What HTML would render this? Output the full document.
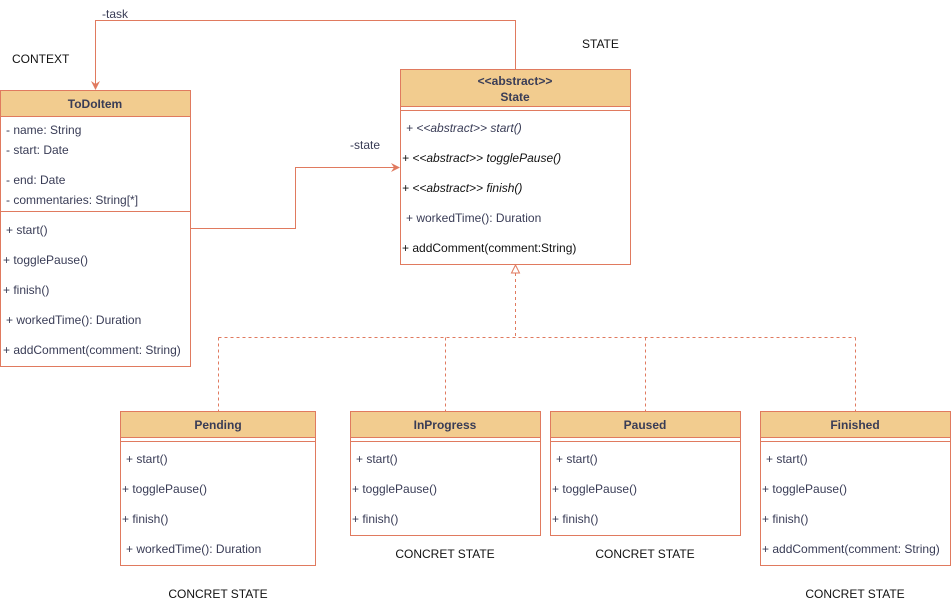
<!DOCTYPE html>
<html><head><meta charset="utf-8"><style>
html,body{margin:0;padding:0;background:#fff;width:951px;height:612px;overflow:hidden}
svg{display:block}
text{font-family:"Liberation Sans",sans-serif;font-size:12px;fill:#393C56}
.b{font-weight:bold;text-anchor:middle}
.k{fill:#111}
.i{font-style:italic}
</style></head><body>
<svg width="951" height="612" viewBox="0 0 951 612" xmlns="http://www.w3.org/2000/svg">
<g fill="none" stroke="#E07A5F" stroke-width="1">
<!-- task connector -->
<polyline points="515.5,69 515.5,20.5 95.5,20.5 95.5,84"/>
<!-- state connector -->
<polyline points="190,228.5 295.5,228.5 295.5,167.5 394,167.5"/>
<!-- generalization -->
<g stroke-dasharray="3,3">
<line x1="515.5" y1="273" x2="515.5" y2="337.5"/>
<line x1="218.5" y1="337.5" x2="855.5" y2="337.5"/>
<line x1="218.5" y1="337.5" x2="218.5" y2="411"/>
<line x1="445.5" y1="337.5" x2="445.5" y2="411"/>
<line x1="645.5" y1="337.5" x2="645.5" y2="411"/>
<line x1="855.5" y1="337.5" x2="855.5" y2="411"/>
</g>
<polygon points="515.5,265 511.5,273 519.5,273" fill="#fff"/>
</g>
<polygon points="95.5,90 91,81 95.5,84 100,81" fill="#E07A5F"/>
<polygon points="400,167.5 391,163 394,167.5 391,172" fill="#E07A5F"/>

<!-- ToDoItem -->
<g stroke="#E07A5F" fill="none">
<rect x="0.5" y="90.5" width="190" height="26" fill="#F2CC8F"/>
<rect x="0.5" y="116.5" width="190" height="250" fill="#fff"/>
<line x1="0" y1="211.5" x2="190" y2="211.5"/>
</g>
<text class="b" x="95" y="108">ToDoItem</text>
<text x="6" y="134">- name: String</text>
<text x="6" y="154">- start: Date</text>
<text x="6" y="184">- end: Date</text>
<text x="6" y="204">- commentaries: String[*]</text>
<text x="6" y="234">+ start()</text>
<text x="3" y="264">+ togglePause()</text>
<text x="3" y="294">+ finish()</text>
<text x="6" y="324">+ workedTime(): Duration</text>
<text x="3" y="354">+ addComment(comment: String)</text>

<!-- State -->
<g stroke="#E07A5F" fill="none">
<rect x="400.5" y="69.5" width="230" height="37" fill="#F2CC8F"/>
<rect x="400.5" y="106.5" width="230" height="158" fill="#fff"/>
<line x1="400" y1="110.5" x2="630" y2="110.5"/>
</g>
<text class="b" x="515" y="85">&lt;&lt;abstract&gt;&gt;</text>
<text class="b" x="515" y="101">State</text>
<text x="406" y="132" class="i">+ &lt;&lt;abstract&gt;&gt; start()</text>
<text x="402" y="162" class="i k">+ &lt;&lt;abstract&gt;&gt; togglePause()</text>
<text x="402" y="192" class="i k">+ &lt;&lt;abstract&gt;&gt; finish()</text>
<text x="406" y="222">+ workedTime(): Duration</text>
<text x="402" y="252" class="k">+ addComment(comment:String)</text>

<!-- Pending -->
<g stroke="#E07A5F" fill="none">
<rect x="120.5" y="411.5" width="195" height="26" fill="#F2CC8F"/>
<rect x="120.5" y="437.5" width="195" height="128" fill="#fff"/>
<line x1="120" y1="441.5" x2="315" y2="441.5"/>
<rect x="350.5" y="411.5" width="190" height="26" fill="#F2CC8F"/>
<rect x="350.5" y="437.5" width="190" height="98" fill="#fff"/>
<line x1="350" y1="441.5" x2="540" y2="441.5"/>
<rect x="550.5" y="411.5" width="190" height="26" fill="#F2CC8F"/>
<rect x="550.5" y="437.5" width="190" height="98" fill="#fff"/>
<line x1="550" y1="441.5" x2="740" y2="441.5"/>
<rect x="760.5" y="411.5" width="190" height="26" fill="#F2CC8F"/>
<rect x="760.5" y="437.5" width="190" height="128" fill="#fff"/>
<line x1="760" y1="441.5" x2="950" y2="441.5"/>
</g>
<text class="b" x="218" y="429">Pending</text>
<text x="126" y="463">+ start()</text>
<text x="122" y="493">+ togglePause()</text>
<text x="122" y="523">+ finish()</text>
<text x="126" y="553">+ workedTime(): Duration</text>

<text class="b" x="445" y="429">InProgress</text>
<text x="356" y="463">+ start()</text>
<text x="352" y="493">+ togglePause()</text>
<text x="352" y="523">+ finish()</text>

<text class="b" x="645" y="429">Paused</text>
<text x="556" y="463">+ start()</text>
<text x="552" y="493">+ togglePause()</text>
<text x="552" y="523">+ finish()</text>

<text class="b" x="855" y="429">Finished</text>
<text x="766" y="463">+ start()</text>
<text x="762" y="493">+ togglePause()</text>
<text x="762" y="523">+ finish()</text>
<text x="762" y="553">+ addComment(comment: String)</text>

<!-- labels -->
<text x="102" y="18">-task</text>
<text x="12" y="63" class="k">CONTEXT</text>
<text x="582" y="48" class="k">STATE</text>
<text x="350" y="149">-state</text>
<text x="218" y="598" class="k" text-anchor="middle">CONCRET STATE</text>
<text x="445" y="558" class="k" text-anchor="middle">CONCRET STATE</text>
<text x="645" y="558" class="k" text-anchor="middle">CONCRET STATE</text>
<text x="855" y="598" class="k" text-anchor="middle">CONCRET STATE</text>
</svg>
</body></html>
